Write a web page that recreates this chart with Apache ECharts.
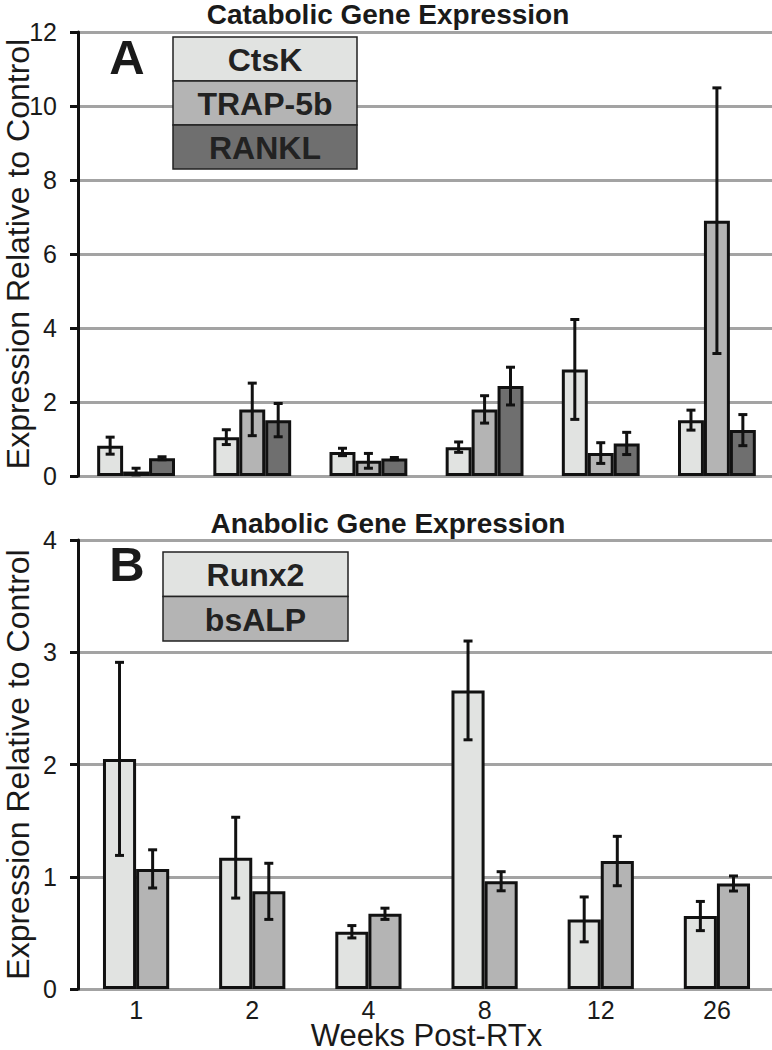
<!DOCTYPE html>
<html>
<head>
<meta charset="utf-8">
<script src="https://cdn.jsdelivr.net/npm/echarts@6/dist/echarts.min.js"></script>
<style>
html,body{margin:0;padding:0;background:#fff;}
#c{width:772px;height:1050px;}
</style>
</head>
<body>
<div id="c"></div>
<script>
const categories = ['1', '2', '4', '8', '12', '26'];
const topTitle = 'Catabolic Gene Expression';
const bottomTitle = 'Anabolic Gene Expression';
const yTitle = 'Expression Relative to Control';
const xTitle = 'Weeks Post-RTx';
const topNames = ['CtsK', 'TRAP-5b', 'RANKL'];
const bottomNames = ['Runx2', 'bsALP'];

const ctsk = [0.82, 1.05, 0.65, 0.78, 2.88, 1.51];
const ctskErr = [0.23, 0.20, 0.10, 0.14, 1.35, 0.27];
const trap = [0.12, 1.80, 0.41, 1.80, 0.62, 6.90];
const trapErr = [0.09, 0.71, 0.20, 0.37, 0.28, 3.59];
const rankl = [0.48, 1.51, 0.47, 2.43, 0.88, 1.24];
const ranklErr = [0.04, 0.45, 0.03, 0.51, 0.30, 0.42];

const runx2 = [2.05, 1.17, 0.51, 2.66, 0.62, 0.65];
const runx2Err = [0.86, 0.36, 0.055, 0.44, 0.20, 0.13];
const bsalp = [1.07, 0.87, 0.67, 0.96, 1.14, 0.94];
const bsalpErr = [0.17, 0.25, 0.05, 0.085, 0.22, 0.067];

const topTicks = { min: 0, max: 12, interval: 2 };
const bottomTicks = { min: 0, max: 4, interval: 1 };

const colorsTop = ['#e1e3e1', '#b4b4b4', '#6f6f6f'];
const colorsBottom = ['#e1e3e1', '#b4b4b4'];
const FONT = 'Liberation Sans, Arial, sans-serif';

const topGap = 0.33, bottomGap = 0.43;

function errSeries(values, errs, gridIdx, idx, n, gap) {
  return {
    type: 'custom',
    xAxisIndex: gridIdx, yAxisIndex: gridIdx,
    z: 10,
    silent: true,
    data: values.map((v, i) => [i, v - errs[i], v + errs[i]]),
    renderItem: function (params, api) {
      const c = api.value(0);
      const lo = api.coord([c, api.value(1)]);
      const hi = api.coord([c, api.value(2)]);
      const band = api.size([1, 0])[0];
      const bw = band * (1 - gap) / n;
      const x = lo[0] + (idx - (n - 1) / 2) * bw;
      const cap = 4.5;
      const st = { stroke: '#111', lineWidth: 3 };
      return {
        type: 'group',
        children: [
          { type: 'line', shape: { x1: x, y1: lo[1], x2: x, y2: hi[1] }, style: st },
          { type: 'line', shape: { x1: x - cap, y1: lo[1], x2: x + cap, y2: lo[1] }, style: st },
          { type: 'line', shape: { x1: x - cap, y1: hi[1], x2: x + cap, y2: hi[1] }, style: st }
        ]
      };
    }
  };
}

function barSeries(name, values, gridIdx, color, gap) {
  return {
    type: 'bar', name: name,
    xAxisIndex: gridIdx, yAxisIndex: gridIdx,
    data: values,
    barGap: '0%',
    barCategoryGap: (gap * 100) + '%',
    itemStyle: { color: color, borderColor: '#111', borderWidth: 3 },
    silent: true
  };
}

function yAxisDef(gridIdx, t) {
  return {
    type: 'value', gridIndex: gridIdx,
    min: t.min, max: t.max, interval: t.interval,
    name: yTitle, nameLocation: 'middle', nameGap: 45, nameRotate: 90,
    nameMoveOverlap: false,
    nameTextStyle: { fontFamily: FONT, fontSize: 32, color: '#1a1a1a', lineHeight: 30 },
    axisLine: { show: true, lineStyle: { color: '#111', width: 3 } },
    axisTick: { show: true, length: 8, lineStyle: { color: '#111', width: 3 } },
    axisLabel: { fontFamily: FONT, fontSize: 25, color: '#1a1a1a', margin: 21 },
    splitLine: { show: true, lineStyle: { color: '#a3a3a3', width: 3 } }
  };
}

function legendGraphic(names, colors, x, y, w, h) {
  const out = [];
  names.forEach((nm, i) => {
    out.push({
      type: 'rect', z: 50,
      shape: { x: x, y: y + i * h, width: w, height: h },
      style: { fill: colors[i], stroke: '#222', lineWidth: 1.5 }
    });
    out.push({
      type: 'text', z: 51,
      style: {
        text: nm, x: x + w / 2, y: y + i * h + h / 2 + 1,
        textAlign: 'center', textVerticalAlign: 'middle',
        fontFamily: FONT, fontWeight: 'bold', fontSize: 32, fill: '#222'
      }
    });
  });
  return out;
}

const chart = echarts.init(document.getElementById('c'), null, { renderer: 'svg', width: 772, height: 1050 });

const option = {
  backgroundColor: '#fff',
  animation: false,
  grid: [
    { left: 78, right: -3, top: 32, height: 444, outerBoundsMode: 'none' },
    { left: 78, right: -3, top: 540, height: 449, outerBoundsMode: 'none' }
  ],
  xAxis: [
    {
      type: 'category', gridIndex: 0, data: categories,
      axisLine: { show: false }, axisTick: { show: false }, axisLabel: { show: false },
      splitLine: { show: false }
    },
    {
      type: 'category', gridIndex: 1, data: categories,
      axisLine: { show: false }, axisTick: { show: false },
      axisLabel: { fontFamily: FONT, fontSize: 25, color: '#1a1a1a', margin: 8, lineHeight: 25 },
      name: xTitle, nameLocation: 'middle', nameGap: 33, nameMoveOverlap: false,
      nameTextStyle: { fontFamily: FONT, fontSize: 31, color: '#1a1a1a', lineHeight: 27 },
      splitLine: { show: false }
    }
  ],
  yAxis: [yAxisDef(0, topTicks), yAxisDef(1, bottomTicks)],
  series: [
    barSeries(topNames[0], ctsk, 0, colorsTop[0], topGap),
    barSeries(topNames[1], trap, 0, colorsTop[1], topGap),
    barSeries(topNames[2], rankl, 0, colorsTop[2], topGap),
    barSeries(bottomNames[0], runx2, 1, colorsBottom[0], bottomGap),
    barSeries(bottomNames[1], bsalp, 1, colorsBottom[1], bottomGap),
    errSeries(ctsk, ctskErr, 0, 0, 3, topGap),
    errSeries(trap, trapErr, 0, 1, 3, topGap),
    errSeries(rankl, ranklErr, 0, 2, 3, topGap),
    errSeries(runx2, runx2Err, 1, 0, 2, bottomGap),
    errSeries(bsalp, bsalpErr, 1, 1, 2, bottomGap)
  ],
  graphic: [
    { type: 'text', z: 60, style: { text: topTitle, x: 388, y: 14, textAlign: 'center', textVerticalAlign: 'middle', fontFamily: FONT, fontWeight: 'bold', fontSize: 28, fill: '#1a1a1a' } },
    { type: 'text', z: 60, style: { text: bottomTitle, x: 388, y: 523, textAlign: 'center', textVerticalAlign: 'middle', fontFamily: FONT, fontWeight: 'bold', fontSize: 28, fill: '#1a1a1a' } },
    { type: 'text', z: 60, style: { text: 'A', x: 127, y: 57, textAlign: 'center', textVerticalAlign: 'middle', fontFamily: FONT, fontWeight: 'bold', fontSize: 49, fill: '#1a1a1a' } },
    { type: 'text', z: 60, style: { text: 'B', x: 127, y: 564, textAlign: 'center', textVerticalAlign: 'middle', fontFamily: FONT, fontWeight: 'bold', fontSize: 49, fill: '#1a1a1a' } }
  ].concat(legendGraphic(topNames, colorsTop, 173, 37, 184, 44))
   .concat(legendGraphic(bottomNames, colorsBottom, 163, 552, 185, 44.5))
};

chart.setOption(option);
</script>
</body>
</html>
